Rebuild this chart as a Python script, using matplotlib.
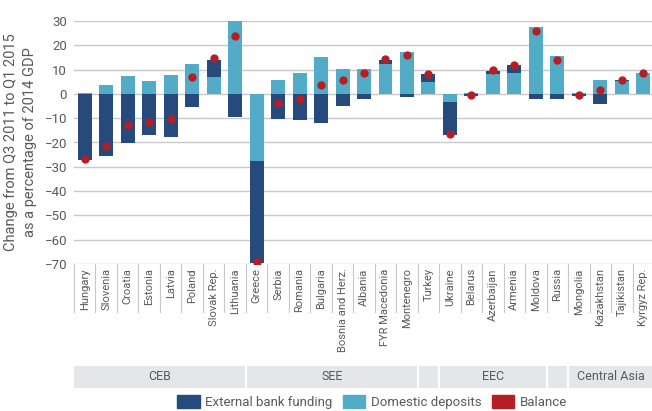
import matplotlib
matplotlib.use("Agg")
import matplotlib.pyplot as plt
from matplotlib.patches import Rectangle, Patch
import numpy as np

plt.rcParams['font.family'] = ['Roboto', 'DejaVu Sans']

countries = ["Hungary", "Slovenia", "Croatia", "Estonia", "Latvia", "Poland", "Slovak Rep.", "Lithuania",
             "Greece", "Serbia", "Romania", "Bulgaria", "Bosnia and Herz.", "Albania", "FYR Macedonia",
             "Montenegro", "Turkey", "Ukraine", "Belarus", "Azerbaijan", "Armenia", "Moldova", "Russia",
             "Mongolia", "Kazakhstan", "Tajikistan", "Kyrgyz Rep."]
deposits = [0.4, 3.5, 7.2, 5.2, 7.6, 12.1, 6.8, 33.1,
            -27.7, 5.8, 8.4, 15.3, 10.4, 10.4, 12.1,
            17.4, 4.7, -3.4, 0.4, 8.0, 8.8, 27.5, 15.7,
            0.4, 5.6, 5.3, 8.4]
external = [-27.2, -25.6, -20.4, -17.1, -17.9, -5.3, 7.3, -9.4,
            -42.0, -10.2, -10.6, -11.8, -4.9, -2.0, 2.0,
            -1.2, 3.3, -13.4, -0.9, 1.6, 2.9, -2.0, -2.0,
            -0.9, -4.2, 0.4, 0.0]
balance = [-26.7, -21.6, -13.0, -11.5, -10.3, 6.9, 14.6, 23.8,
           -69.3, -3.9, -1.9, 3.8, 5.8, 8.8, 14.3,
           16.2, 8.1, -16.4, -0.5, 9.9, 11.9, 25.8, 14.1,
           -0.5, 1.8, 5.6, 8.5]
groups = [("CEB", 0, 7), ("SEE", 8, 15), ("", 16, 16), ("EEC", 17, 21), ("", 22, 22), ("Central Asia", 23, 26)]

dark = "#264a7b"
light = "#52acc7"
red = "#b51f24"
grey_txt = "#595959"

fig = plt.figure(figsize=(6.52, 4.11), dpi=100)
ax = fig.add_axes([74 / 652, 1 - 264 / 411, 580 / 652, 243 / 411])

x = np.arange(len(countries))
dep = np.array(deposits)
ext = np.array(external)
ext_bottom = np.where(np.sign(ext) == np.sign(dep), dep, 0)

ax.bar(x, dep, width=0.65, color=light, zorder=2)
ax.bar(x, ext, bottom=ext_bottom, width=0.65, color=dark, zorder=2)
ax.plot(x, balance, "o", color=red, markersize=5, zorder=3)

ax.set_xlim(-0.5, len(countries) - 0.5)
ax.set_ylim(-70, 30)
ax.set_yticks(range(-70, 31, 10))
ax.grid(axis="y", color="#c8c8c8", linewidth=1, zorder=0)
for s in ax.spines.values():
    s.set_visible(False)
ax.tick_params(axis="y", length=0, labelsize=9.5, labelcolor=grey_txt, pad=5)
ax.set_xticks(x)
ax.set_xticklabels(countries, rotation=90, fontsize=8, color=grey_txt, va="top")
ax.tick_params(axis="x", length=0, pad=3)
ax.set_ylabel("Change from Q3 2011 to Q1 2015\nas a percentage of 2014 GDP", fontsize=10.5,
              color=grey_txt, labelpad=5, linespacing=1.5)

tr = ax.get_xaxis_transform()
for i in range(len(countries) + 1):
    ax.plot([i - 0.5, i - 0.5], [0, -0.1975], transform=tr, color="#c8c8c8", lw=0.8, clip_on=False)

for name, a, b in groups:
    ax.add_patch(Rectangle((a - 0.5, -0.5091), b - a + 1, 0.0893, transform=tr, color="#e5e6e8",
                           clip_on=False, lw=0))
    ax.text((a + b) / 2, -0.4645, name, transform=tr, ha="center", va="center", fontsize=9, color=grey_txt)
for name, a, b in groups[1:]:
    ax.plot([a - 0.5, a - 0.5], [-0.4198, -0.5091], transform=tr, color="white", lw=1.5, clip_on=False)

handles = [Patch(color=dark, label="External bank funding"),
           Patch(color=light, label="Domestic deposits"),
           Patch(color=red, label="Balance")]
fig.legend(handles=handles, loc="center", bbox_to_anchor=(372 / 652, 1 - 402 / 411), ncol=3, frameon=False,
           fontsize=9.5, handlelength=1.7, handleheight=1.2, handletextpad=0.4, columnspacing=0.8,
           labelcolor=grey_txt)

fig.savefig("out.png", dpi=100)
